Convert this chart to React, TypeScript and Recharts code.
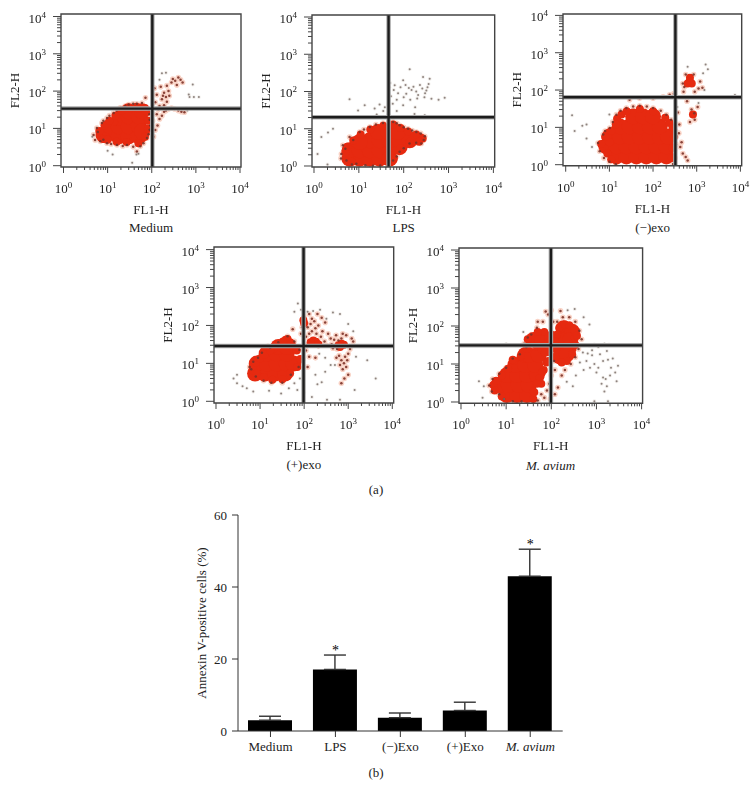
import { BarChart, Bar, ErrorBar, XAxis, YAxis, ScatterChart, Scatter, ReferenceLine, ReferenceArea, ReferenceDot } from 'recharts';

const SERIF = '"Liberation Serif", serif';
const INK = '#222';
const FONT_SIZE = 13;

// Annexin V bars (panel b)
const groups = ['Medium', 'LPS', '(−)Exo', '(+)Exo', 'M. avium'];
const annexinMean = [3.0, 17.1, 3.7, 5.7, 43.0];
const annexinErr = [1.1, 4.0, 1.3, 2.3, 7.5];
const annexinStar = [false, true, false, false, true];

// Flow cytometry clouds as [FL1, FL2]
const mediumCore = [[8.1, 6.7], [11.5, 7.5], [11.5, 11.3], [17.8, 6.1], [17.8, 11.3], [19.4, 19], [30, 6.1], [30, 11.3], [30, 21], [30, 28.8], [51, 6.1], [51, 11.3], [51, 21], [60, 28.8], [60, 8.3]];
const mediumPatch = [[8, 5.2], [14, 15], [50, 33], [70, 35], [6.5, 8.5], [8.5, 12], [11, 16], [15, 22], [21, 30], [45, 38], [78, 28], [82, 16], [82, 10], [70, 6], [50, 4], [27, 4.3], [16, 4.4], [10, 5]];
const mediumEdge = [[5.2, 4.9], [4.8, 6.7], [5.7, 10.2], [7.4, 13.9], [9.7, 19], [13.7, 26], [19.4, 35.5], [30, 43.7], [46, 46], [72, 66], [85, 32], [90, 17], [90, 9.2], [78, 5.5], [55, 3.3], [46, 2.4], [27.5, 3.6], [16.3, 3.6], [9.7, 4], [6.8, 4.5], [6, 8], [8, 5], [12, 3.8], [22, 3.4], [38, 3.2], [65, 4], [85, 7], [92, 12], [88, 24], [60, 48], [38, 46], [25, 40], [16, 30], [11, 22], [8, 16], [110, 6], [120, 9], [135, 12], [105, 16], [150, 18], [170, 22], [130, 24], [190, 28], [210, 30], [240, 33], [280, 35], [330, 33], [400, 30], [470, 28], [550, 27], [150, 40], [190, 42], [120, 50], [170, 60], [210, 70], [130, 80], [190, 90], [240, 100], [115, 120], [160, 130], [220, 140], [280, 170], [340, 190], [400, 230], [450, 200], [500, 170], [370, 145], [300, 210], [180, 75], [250, 75], [220, 52], [140, 32]];
const mediumSparse = [[4.5, 6], [10, 2.5], [13, 2], [36, 1.2], [45, 2], [50, 2.1], [690, 81], [900, 69], [1170, 69], [850, 150], [170, 300], [210, 310], [150, 200], [600, 35], [720, 70], [640, 30]];

const lpsCore = [[6.2, 1.57], [10.4, 1.57], [17.5, 1.57], [29, 1.57], [6.2, 2.63], [10.4, 2.63], [17.5, 2.63], [29, 2.63], [48.7, 2.63], [48.7, 1.57], [81, 3.2], [17.5, 4.9], [29, 4.9], [48.7, 4.9], [81, 4.9], [136, 4.9], [26.8, 8.2], [45, 8.2], [75, 8.2], [10.4, 4.4]];
const lpsPatch = [[200, 5.5], [240, 5.8], [170, 6.5], [5, 2.3], [5.5, 3.3], [7.5, 4.8], [11, 7], [18, 9.5], [35, 12], [58, 13], [85, 10.5], [125, 8.5], [190, 7], [265, 5.5], [220, 4.5], [135, 4.5], [85, 3], [60, 1.6], [7, 1.3]];
const lpsEdge = [[4.07, 2.1], [4.4, 3.6], [6.2, 6], [10.4, 8.2], [17.5, 11.1], [34.6, 14.3], [58, 15.2], [81, 12.4], [125, 10], [192, 8.2], [295, 6.3], [247, 4], [135, 4], [81, 2.4], [58, 1.4], [45, 1.04], [20.7, 1.02], [8.8, 1.15], [5.3, 1.4], [5, 2.9], [7.5, 5], [13, 9.5], [24, 13], [46, 15], [70, 14], [100, 11], [155, 9], [240, 7.5], [280, 5], [190, 4.2], [100, 3], [70, 1.8], [4, 1.6], [7, 1.1], [14, 1.05], [30, 1.03]];
const lpsSparse = [[136, 393], [97, 199], [270, 245], [380, 220], [48, 131], [63, 147], [114, 87], [210, 80], [320, 107], [415, 64], [820, 68], [6.2, 62], [9.6, 31], [13.5, 43], [22.5, 35], [29, 45], [38, 38], [57, 47], [97, 43], [180, 38], [174, 25], [295, 23], [1.46, 6], [2.05, 7.9], [2.65, 10], [1.2, 2.1], [2, 1.1], [60, 110], [75, 90], [85, 130], [110, 150], [130, 125], [150, 110], [165, 135], [190, 100], [230, 150], [260, 120], [300, 90], [340, 130], [360, 160], [290, 70], [200, 65], [140, 60], [100, 70], [70, 60], [52, 75], [50, 170], [35, 30], [25, 24], [45, 25], [70, 30], [600, 60]];

const negCore = [[14.5, 1.67], [24.5, 1.67], [41.5, 1.67], [70, 1.67], [119, 1.67], [202, 1.67], [8.5, 3.1], [14.5, 3.1], [24.5, 3.1], [41.5, 3.1], [70, 3.1], [119, 3.1], [202, 3.1], [10.2, 5.7], [17.3, 5.7], [29, 5.7], [49.5, 5.7], [84, 5.7], [142, 5.7], [221, 5.7], [17.3, 10.6], [29, 10.6], [49.5, 10.6], [84, 10.6], [142, 10.6], [35, 19.7], [59, 19.7], [100, 19.7]];
const negPatch = [[690, 171], [620, 150], [770, 150], [700, 215], [820, 22], [240, 13], [10, 4], [6.5, 3.6], [8, 5.5], [11, 8], [15, 17], [25, 27], [50, 31], [100, 27], [190, 18], [280, 10], [300, 5.5], [280, 2.8], [9, 2], [11, 1.4], [270, 1.5], [14, 12], [19, 22]];
const negEdge = [[5.5, 3.8], [7.2, 6.4], [10.2, 9.6], [14.5, 21.9], [24.5, 33], [49.5, 38], [100, 33], [202, 21.9], [313, 11.8], [342, 5.7], [313, 2.5], [288, 1.05], [6, 2.3], [7.5, 1.5], [10, 1.2], [14, 1.03], [8, 8], [12, 14], [18, 28], [35, 36], [72, 36], [150, 28], [260, 16], [330, 8], [335, 3.5], [320, 1.5], [29, 55], [49, 60], [100, 60], [170, 66], [240, 75], [300, 80], [370, 25], [400, 12], [420, 3], [480, 2], [560, 1.6], [620, 1.3], [450, 4], [390, 7], [500, 90], [520, 120], [560, 260], [850, 260], [1200, 170], [1350, 115], [1100, 110], [480, 150], [900, 90], [760, 30], [900, 16], [700, 14], [1050, 35], [880, 24], [600, 50]];
const negSparse = [[1.4, 21], [1.6, 8], [2.4, 11], [3, 5], [4, 3], [10, 22], [620, 420], [1600, 480], [1400, 280], [1800, 360], [7500, 74], [1100, 45], [1500, 100], [360, 35], [3, 12]];

const posCore = [[7.7, 5.4], [12.9, 5.4], [21.8, 5.4], [36.7, 5.4], [8.4, 9.85], [14.1, 9.85], [23.8, 9.85], [40, 9.85], [57, 9.85], [14.1, 18], [23.8, 18], [40, 18], [26, 27], [40, 27]];
const posPatch = [[161, 40], [185, 37], [140, 36], [210, 32], [96, 137], [100, 115], [708, 33], [800, 31], [600, 30], [650, 27], [38, 42], [48, 36], [20, 24], [7, 6.5], [6.8, 8], [8, 10.5], [10, 13.5], [12.5, 17], [17, 22], [26, 32], [42, 44], [52, 33], [68, 22], [82, 13], [70, 8], [48, 5.5], [32, 3.8], [19, 3.7], [12, 4.3], [8.5, 5.5], [33, 38]];
const posEdge = [[6.3, 7], [5.8, 8], [7, 11], [9, 14], [11, 19], [17, 26], [26, 36], [42, 52], [60, 38], [78, 23], [95, 13], [75, 8], [50, 5], [32, 3.1], [18, 3.1], [12, 3.5], [8, 4.5], [15, 28], [55, 80], [85, 60], [120, 30], [130, 60], [190, 60], [240, 50], [290, 38], [320, 30], [420, 32], [480, 42], [560, 24], [620, 16], [700, 12], [800, 10], [900, 8], [1000, 5], [820, 4], [700, 3], [1000, 18], [1100, 28], [1300, 38], [900, 55], [750, 60], [530, 55], [120, 90], [140, 110], [170, 130], [210, 100], [250, 160], [300, 120], [150, 150], [120, 8], [130, 15], [110, 22], [180, 14], [110, 50], [150, 70], [90, 90], [100, 170], [130, 200], [200, 200], [180, 85], [260, 70], [350, 60], [400, 45], [450, 25], [600, 40], [700, 45], [1100, 24], [1200, 45], [850, 15], [950, 12], [750, 7], [650, 9], [540, 14]];
const posSparse = [[72, 380], [60, 230], [85, 260], [120, 230], [160, 240], [230, 260], [320, 150], [450, 220], [650, 200], [80, 4], [60, 3], [45, 2.2], [70, 2], [100, 1.7], [150, 1.3], [200, 2.8], [250, 3.2], [180, 5], [300, 6], [400, 9], [220, 18], [300, 14], [500, 9], [1500, 15], [2700, 12], [4200, 4], [1400, 2], [650, 1.1], [330, 1.1], [2.5, 4], [3, 3], [4, 2.5], [3, 5], [5, 2.2], [7, 1.8], [16, 1.9], [30, 1.6], [1000, 110], [1300, 70]];

const aviumCore = [[10.4, 1.53], [17.4, 1.53], [29, 1.53], [6.8, 2.8], [11.4, 2.8], [18.9, 2.8], [31.5, 2.8], [10.4, 5.1], [17.4, 5.1], [29, 5.1], [48, 5.1], [16, 9.4], [26.6, 9.4], [44, 9.4], [26.6, 17.3], [31.5, 17.3], [52.5, 17.3], [40.6, 42.9], [62, 47], [80, 25.9], [187, 87], [287, 71], [158, 42.9], [264, 42.9], [158, 25.9], [242, 25.9], [158, 15.6], [220, 18]];
const aviumPatch = [[100, 60], [85, 35], [70, 70], [55, 30], [330, 50], [40, 1.2], [60, 3], [5.2, 2.8], [5.6, 2], [6, 3.6], [8, 5], [11, 7.5], [15, 12], [14, 13], [21, 16], [29, 25], [48, 28], [60, 24], [72, 20], [78, 11], [68, 7], [62, 6], [55, 4.2], [48, 3], [40, 1.9], [42, 1.8], [8, 1.4], [34, 36], [30, 45], [50, 70], [85, 50], [85, 12], [150, 90], [200, 110], [250, 105], [320, 80], [370, 55], [340, 32], [290, 18], [220, 12], [170, 11], [135, 60], [120, 40]];
const aviumEdge = [[4.2, 2.7], [4.8, 1.9], [5, 4], [7, 5.5], [10, 8], [14, 14], [20, 18], [28, 28], [36, 60], [48, 90], [65, 130], [85, 200], [110, 130], [135, 130], [180, 170], [250, 170], [340, 130], [420, 75], [470, 45], [400, 25], [340, 15], [270, 10], [200, 7], [170, 5], [120, 7], [115, 12], [100, 5], [90, 3], [80, 2], [70, 1.3], [95, 1.2], [120, 1.6], [140, 2.4], [7, 1.6], [9, 1.2], [14, 1.05], [22, 1.03], [50, 1.1], [60, 1.6], [25, 34], [30, 50], [50, 130], [75, 240], [100, 260], [160, 250]];
const aviumSparse = [[2.5, 3.5], [3.2, 2.6], [3, 1.3], [9, 1.2], [16, 31], [10, 34], [24, 70], [230, 260], [330, 280], [520, 170], [700, 110], [700, 30], [900, 33], [1100, 28], [1300, 31], [1500, 34], [1900, 33], [1700, 22], [1200, 18], [800, 17], [600, 12], [900, 10], [1100, 8], [1400, 12], [1800, 13], [2300, 14], [3000, 9], [2600, 6], [2000, 5], [1600, 4], [1300, 3], [1700, 2.6], [1500, 1.9], [1000, 6], [720, 8], [520, 7], [640, 19], [430, 11], [350, 5], [300, 2.6], [220, 3.4], [900, 1.05], [1800, 1.05], [1400, 4.4], [2100, 8], [2800, 3.5], [800, 23], [500, 20]];

const majorTicks = [1, 10, 100, 1000, 10000];
const logTicks = [1, 2, 3, 4, 5, 6, 7, 8, 9, 10, 20, 30, 40, 50, 60, 70, 80, 90, 100, 200, 300, 400, 500, 600, 700, 800, 900, 1000, 2000, 3000, 4000, 5000, 6000, 7000, 8000, 9000, 10000];

// box = frame edges, x0/x4 = pixel of 10^0 / 10^4 on the axis, y0/y4 likewise
const panels = [
    { name: 'Medium', italic: false, core: mediumCore, patch: mediumPatch, edge: mediumEdge, sparse: mediumSparse, gateX: 103, gateY: 34, l: 61, r: 241, t: 14, b: 167, x0: 63.5, x4: 240, y0: 165.7, y4: 16.5, capY: 228 },
    { name: 'LPS', italic: false, core: lpsCore, patch: lpsPatch, edge: lpsEdge, sparse: lpsSparse, gateX: 46, gateY: 20.3, l: 312.3, r: 495, t: 14.7, b: 166.7, x0: 314.3, x4: 493.7, y0: 165.7, y4: 16.7, capY: 228 },
    { name: '(−)exo', italic: false, core: negCore, patch: negPatch, edge: negEdge, sparse: negSparse, gateX: 325, gateY: 64, l: 563.3, r: 742, t: 14.3, b: 166, x0: 566, x4: 740.7, y0: 165, y4: 15.7, capY: 228 },
    { name: '(+)exo', italic: false, core: posCore, patch: posPatch, edge: posEdge, sparse: posSparse, gateX: 97, gateY: 28.8, l: 214, r: 393.7, t: 246.7, b: 402.7, x0: 216, x4: 392.3, y0: 401, y4: 249.3, capY: 465 },
    { name: 'M. avium', italic: true, core: aviumCore, patch: aviumPatch, edge: aviumEdge, sparse: aviumSparse, gateX: 98, gateY: 31, l: 458.7, r: 642.3, t: 248, b: 403.3, x0: 460.7, x4: 641.3, y0: 402, y4: 250, capY: 466 },
];

const toPts = (arr: number[][]) => arr.map(([x, y]) => ({ x, y }));

const dot = (r: number, fill: string, opacity = 1) => (p: any) => <circle cx={p.cx} cy={p.cy} r={r} fill={fill} opacity={opacity} />;

function power(v: number) {
    return Math.round(Math.log10(v));
}

function XLogTick({ x, y, payload }: any) {
    const v = payload.value;
    const major = majorTicks.includes(v);
    return (
        <g>
            <line x1={x} x2={x} y1={y} y2={y + (major ? 6 : 3)} stroke="#444" strokeWidth={1} />
            {major && (
                <text x={x} y={y + 26} textAnchor="middle" fontFamily={SERIF} fontSize={FONT_SIZE} fill={INK}>
                    10<tspan dy={-5} fontSize={9}>{power(v)}</tspan>
                </text>
            )}
        </g>
    );
}

function YLogTick({ x, y, payload }: any) {
    const v = payload.value;
    const major = majorTicks.includes(v);
    return (
        <g>
            <line x1={x} x2={x - (major ? 8 : 4)} y1={y} y2={y} stroke="#444" strokeWidth={1} />
            {major && (
                <text x={x - 15} y={y + 6} textAnchor="end" fontFamily={SERIF} fontSize={FONT_SIZE} fill={INK}>
                    10<tspan dy={-5} fontSize={9}>{power(v)}</tspan>
                </text>
            )}
        </g>
    );
}

function FlowPanel({ panel }: { panel: (typeof panels)[number] }) {
    const { l, r, t, b, x0, x4, y0, y4 } = panel;
    const xDec = (x4 - x0) / 4;
    const yDec = (y0 - y4) / 4;
    const xDomain = [Math.pow(10, -(x0 - l) / xDec), Math.pow(10, 4 + (r - x4) / xDec)];
    const yDomain = [Math.pow(10, -(b - y0) / yDec), Math.pow(10, 4 + (y4 - t) / yDec)];
    const leftW = 56;
    const rightW = 14;
    const topH = 10;
    const bottomH = 54;
    return (
        <div style={{ position: 'absolute', left: l - leftW, top: t - topH }}>
            <div style={{ filter: 'blur(0.45px)' }}>
                <ScatterChart
                    width={r - l + leftW + rightW}
                    height={b - t + topH + bottomH}
                    margin={{ top: topH, right: rightW, bottom: 0, left: 0 }}
                >
                    <XAxis
                        type="number"
                        dataKey="x"
                        scale="log"
                        domain={xDomain}
                        allowDataOverflow
                        ticks={logTicks}
                        interval={0}
                        height={bottomH}
                        axisLine={false}
                        tickLine={false}
                        tickSize={0}
                        tickMargin={0}
                        tick={<XLogTick />}
                        label={{ value: 'FL1-H', position: 'insideBottom', offset: 7, fontFamily: SERIF, fontSize: FONT_SIZE, fill: INK }}
                    />
                    <YAxis
                        type="number"
                        dataKey="y"
                        scale="log"
                        domain={yDomain}
                        allowDataOverflow
                        ticks={logTicks}
                        interval={0}
                        width={leftW}
                        axisLine={false}
                        tickLine={false}
                        tickSize={0}
                        tickMargin={0}
                        tick={<YLogTick />}
                        label={{ value: 'FL2-H', angle: -90, position: 'insideLeft', offset: 9, fontFamily: SERIF, fontSize: FONT_SIZE, fill: INK, style: { textAnchor: 'middle' } }}
                    />
                    <Scatter data={toPts(panel.edge)} shape={dot(2.8, '#f9d3c6')} isAnimationActive={false} />
                    <Scatter data={toPts(panel.sparse)} shape={dot(1.9, '#e8e2de', 0.6)} isAnimationActive={false} />
                    <Scatter data={toPts(panel.core)} shape={dot(8, '#e62a10')} isAnimationActive={false} />
                    <Scatter data={toPts(panel.patch)} shape={dot(4, '#e62a10')} isAnimationActive={false} />
                    <Scatter data={toPts(panel.edge)} shape={dot(1.25, '#7c3228', 0.9)} isAnimationActive={false} />
                    <Scatter data={toPts(panel.sparse)} shape={dot(1, '#7d716c', 0.85)} isAnimationActive={false} />
                    <ReferenceLine x={panel.gateX} stroke="#aaa" strokeWidth={4.5} isFront zIndex={600} />
                    <ReferenceLine y={panel.gateY} stroke="#aaa" strokeWidth={4.5} isFront zIndex={600} />
                    <ReferenceLine x={panel.gateX} stroke="#1c1c1c" strokeWidth={2.4} isFront zIndex={601} />
                    <ReferenceLine y={panel.gateY} stroke="#1c1c1c" strokeWidth={2.4} isFront zIndex={601} />
                    <ReferenceArea x1={xDomain[0]} x2={xDomain[1]} y1={yDomain[0]} y2={yDomain[1]} fill="none" stroke="#444" strokeWidth={1.4} isFront zIndex={602} />
                </ScatterChart>
            </div>
            <div
                style={{
                    position: 'absolute',
                    left: (r + l) / 2 - l + leftW - 60,
                    top: panel.capY - t + topH - 8,
                    width: 120,
                    textAlign: 'center',
                    fontFamily: SERIF,
                    fontSize: FONT_SIZE,
                    lineHeight: '16px',
                    color: INK,
                    fontStyle: panel.italic ? 'italic' : 'normal',
                }}
            >
                {panel.name}
            </div>
        </div>
    );
}

function GroupTick({ x, y, payload }: any) {
    return (
        <text x={x} y={y + 14} textAnchor="middle" fontFamily={SERIF} fontSize={FONT_SIZE} fill={INK} fontStyle={payload.value === 'M. avium' ? 'italic' : 'normal'}>
            {payload.value}
        </text>
    );
}

const annexinData = groups.map((name, i) => ({ name, mean: annexinMean[i], err: [0, annexinErr[i]] }));

function AnnexinBars() {
    return (
        <div style={{ position: 'absolute', left: 182.3, top: 505 }}>
            <BarChart width={386} height={256} data={annexinData} margin={{ top: 10, right: 5.3, bottom: 0, left: 0 }} barSize={44}>
                <XAxis
                    dataKey="name"
                    height={30}
                    interval={0}
                    stroke="#333"
                    tickSize={6}
                    tickMargin={0}
                    tick={<GroupTick />}
                />
                <YAxis
                    type="number"
                    domain={[0, 60]}
                    ticks={[0, 20, 40, 60]}
                    width={56}
                    stroke="#333"
                    tickSize={6}
                    tickMargin={5}
                    tick={{ fontFamily: SERIF, fontSize: FONT_SIZE, fill: INK }}
                    label={{ value: 'Annexin V-positive cells (%)', angle: -90, position: 'insideLeft', offset: 19, fontFamily: SERIF, fontSize: FONT_SIZE, fill: INK, style: { textAnchor: 'middle' } }}
                />
                <Bar dataKey="mean" fill="#000" isAnimationActive={false}>
                    <ErrorBar dataKey="err" direction="y" width={11} stroke="#333" strokeWidth={1.4} isAnimationActive={false} />
                </Bar>
                {groups.map((name, i) =>
                    annexinStar[i] ? (
                        <ReferenceDot
                            key={name}
                            x={name}
                            y={annexinMean[i] + annexinErr[i]}
                            r={0}
                            stroke="none"
                            label={{ value: '*', position: 'top', offset: 0, fontFamily: SERIF, fontSize: 14, fill: '#000', style: { fill: '#000' } }}
                        />
                    ) : null
                )}
            </BarChart>
        </div>
    );
}

function PartLabel({ text, y }: { text: string; y: number }) {
    return (
        <div style={{ position: 'absolute', left: 316, top: y - 8, width: 120, textAlign: 'center', fontFamily: SERIF, fontSize: FONT_SIZE, lineHeight: '16px', color: INK }}>
            {text}
        </div>
    );
}

export default function App() {
    return (
        <div style={{ position: 'absolute', left: 0, top: 0, width: 756, height: 788, background: '#fff', overflow: 'hidden' }}>
            {panels.map((p) => (
                <FlowPanel key={p.name} panel={p} />
            ))}
            <PartLabel text="(a)" y={490} />
            <AnnexinBars />
            <PartLabel text="(b)" y={773} />
        </div>
    );
}
